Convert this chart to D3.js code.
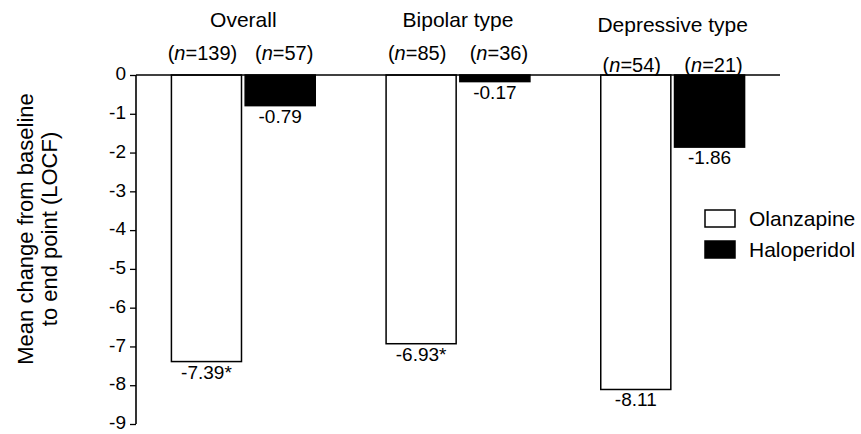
<!DOCTYPE html>
<html>
<head>
<meta charset="utf-8">
<script src="https://cdn.jsdelivr.net/npm/d3@7"></script>
<style>
  body { margin: 0; background: #fff; }
  svg { font-family: "Liberation Sans", Arial, Helvetica, sans-serif; }
</style>
</head>
<body>
<svg id="chart" width="861" height="434"></svg>
<script>
const groups = ['Overall', 'Bipolar type', 'Depressive type'];
const drugs = ['Olanzapine', 'Haloperidol'];
const olanzapine = [-7.39, -6.93, -8.11];
const haloperidol = [-0.79, -0.17, -1.86];
const nOlanzapine = [139, 85, 54];
const nHaloperidol = [57, 36, 21];
const significant = [true, true, false]; // olanzapine vs haloperidol, marked *
const yTicks = [0, -1, -2, -3, -4, -5, -6, -7, -8, -9];

const data = groups.map((g, i) => ({
  group: g,
  values: [
    { drug: 'Olanzapine', value: olanzapine[i], n: nOlanzapine[i], star: significant[i] },
    { drug: 'Haloperidol', value: haloperidol[i], n: nHaloperidol[i], star: false },
  ],
}));

const svg = d3.select('#chart');
const left = 136;
const right = 780;

const y = d3.scaleLinear()
  .domain([0, -9])
  .range([75, 424]);

const x0 = d3.scaleBand()
  .domain(groups)
  .range([left, right])
  .paddingInner(0.33)
  .paddingOuter(0.165);

const x1 = d3.scaleBand()
  .domain(drugs)
  .range([0, x0.bandwidth()])
  .paddingInner(0.05);

const fill = d3.scaleOrdinal()
  .domain(drugs)
  .range(['#fff', '#000']);

// y axis
const yAxis = svg.append('g')
  .attr('transform', `translate(${left},0)`)
  .call(d3.axisLeft(y).tickValues(yTicks).tickSize(6).tickPadding(4));
yAxis.select('.domain').remove();
yAxis.selectAll('line').attr('stroke', '#000').attr('stroke-width', 1.3);
yAxis.selectAll('text')
  .attr('fill', '#000')
  .attr('dy', '0.25em')
  .style('font-size', '19px')
  .text((d) => (d === 0 ? '0' : `-${Math.abs(d)}`));

svg.append('line')
  .attr('x1', left).attr('x2', left)
  .attr('y1', y(0)).attr('y2', y(-9))
  .attr('stroke', '#000').attr('stroke-width', 1.6);

// groups of bars
const g = svg.selectAll('.grp')
  .data(data)
  .join('g')
  .attr('class', 'grp')
  .attr('transform', (d) => `translate(${x0(d.group)},0)`);

g.selectAll('rect')
  .data((d) => d.values)
  .join('rect')
  .attr('x', (d) => x1(d.drug))
  .attr('y', y(0))
  .attr('width', x1.bandwidth())
  .attr('height', (d) => y(d.value) - y(0))
  .attr('fill', (d) => fill(d.drug))
  .attr('stroke', '#000')
  .attr('stroke-width', 1.5);

g.selectAll('.val')
  .data((d) => d.values)
  .join('text')
  .attr('class', 'val')
  .attr('x', (d) => x1(d.drug) + x1.bandwidth() / 2)
  .attr('y', (d) => y(d.value) + 17)
  .attr('text-anchor', 'middle')
  .style('font-size', '19px')
  .text((d) => `-${Math.abs(d.value).toFixed(2)}${d.star ? '*' : ''}`);

// zero line drawn over bar tops
svg.append('line')
  .attr('x1', left).attr('x2', right)
  .attr('y1', y(0)).attr('y2', y(0))
  .attr('stroke', '#000').attr('stroke-width', 1.6);

// group titles and n labels (depressive type sits a bit lower)
const drop = [0, 0, 5];
const nDrop = [0, 0, 12];
const nShift = { Olanzapine: -4, Haloperidol: 4 };

g.append('text')
  .attr('x', x0.bandwidth() / 2)
  .attr('y', (d, i) => 27 + drop[i])
  .attr('text-anchor', 'middle')
  .style('font-size', '21px')
  .text((d) => d.group);

const nText = g.selectAll('.n')
  .data((d, i) => d.values.map((v) => ({ ...v, i })))
  .join('text')
  .attr('class', 'n')
  .attr('x', (d) => x1(d.drug) + x1.bandwidth() / 2 + nShift[d.drug])
  .attr('y', (d) => 60 + nDrop[d.i])
  .attr('text-anchor', 'middle')
  .style('font-size', '20px');
nText.append('tspan').text('(');
nText.append('tspan').style('font-style', 'italic').text('n');
nText.append('tspan').text((d) => `=${d.n})`);

// y axis title
svg.append('text')
  .attr('transform', 'translate(33,229) rotate(-90)')
  .attr('text-anchor', 'middle')
  .style('font-size', '22px')
  .selectAll('tspan')
  .data(['Mean change from baseline', 'to end point (LOCF)'])
  .join('tspan')
  .attr('x', 0)
  .attr('dy', (d, i) => (i === 0 ? 0 : 24))
  .text((d) => d);

// legend
const legend = svg.append('g')
  .attr('transform', 'translate(705,210)');

const item = legend.selectAll('g')
  .data(drugs)
  .join('g')
  .attr('transform', (d, i) => `translate(0,${i * 31})`);

item.append('rect')
  .attr('width', 30)
  .attr('height', 17)
  .attr('fill', (d) => fill(d))
  .attr('stroke', '#000')
  .attr('stroke-width', 1.5);

item.append('text')
  .attr('x', 44)
  .attr('y', 16)
  .style('font-size', '21px')
  .text((d) => d);
</script>
</body>
</html>
